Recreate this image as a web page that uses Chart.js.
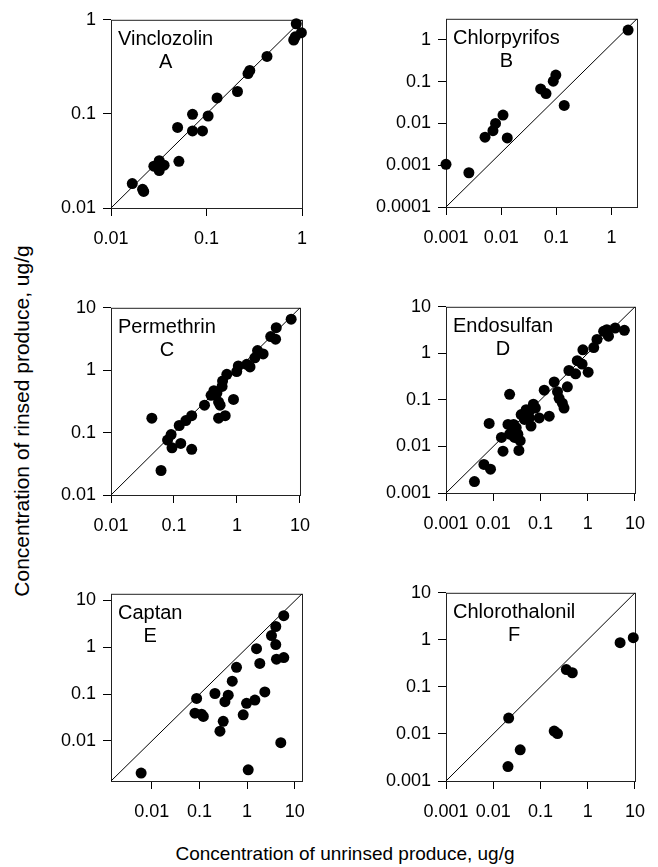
<!DOCTYPE html>
<html>
<head>
<meta charset="utf-8">
<script src="https://cdn.jsdelivr.net/npm/chart.js@4.4.1/dist/chart.umd.min.js"></script>
<style>
  body { margin: 0; background: #fff; width: 658px; height: 867px; position: relative; overflow: hidden;
         font-family: "Liberation Sans", Arial, sans-serif; color: #000; }
  canvas { position: absolute; }
  .title { position: absolute; white-space: nowrap; text-align: center; }
  #ytitle { font-size: 21px; left: -178px; top: 408px; width: 400px; height: 26px; line-height: 26px; transform: rotate(-90deg); }
  #xtitle { font-size: 19px; left: 145px; top: 842px; width: 400px; height: 24px; line-height: 24px; }
</style>
</head>
<body>
<div id="ytitle" class="title">Concentration of rinsed produce, ug/g</div>
<div id="xtitle" class="title">Concentration of unrinsed produce, ug/g</div>
<script>
// unrinsed (x) vs rinsed (y), ug/g
const vinclozolinX = [0.0167, 0.0214, 0.022, 0.0281, 0.032, 0.032, 0.036, 0.0498, 0.0514, 0.0714, 0.0714, 0.0908, 0.104, 0.129, 0.211, 0.272, 0.284, 0.43, 0.819, 0.85, 0.871, 0.985];
const vinclozolinY = [0.0182, 0.0158, 0.015, 0.0278, 0.0318, 0.025, 0.0285, 0.0718, 0.0313, 0.099, 0.066, 0.066, 0.095, 0.148, 0.173, 0.268, 0.29, 0.408, 0.61, 0.66, 0.908, 0.73];

const chlorpyrifosX = [0.001, 0.0026, 0.0051, 0.0071, 0.0079, 0.0108, 0.0129, 0.052, 0.065, 0.088, 0.098, 0.139, 2.0];
const chlorpyrifosY = [0.00105, 0.00066, 0.0047, 0.0067, 0.01, 0.0159, 0.0045, 0.067, 0.052, 0.103, 0.144, 0.027, 1.72];

const permethrinX = [0.0445, 0.0623, 0.079, 0.09, 0.093, 0.128, 0.121, 0.154, 0.191, 0.191, 0.305, 0.388, 0.43, 0.48, 0.51, 0.51, 0.54, 0.58, 0.59, 0.65, 0.69, 0.88, 0.99, 1.05, 1.43, 1.61, 1.92, 2.12, 2.6, 3.43, 4.1, 4.2, 7.24];
const permethrinY = [0.17, 0.0247, 0.0758, 0.093, 0.057, 0.067, 0.13, 0.156, 0.054, 0.187, 0.275, 0.395, 0.47, 0.43, 0.31, 0.17, 0.275, 0.55, 0.67, 0.187, 0.86, 0.34, 0.95, 1.17, 1.24, 1.13, 1.58, 2.06, 1.82, 3.46, 3.14, 4.8, 6.56];

const endosulfanX = [0.004, 0.00635, 0.00875, 0.0082, 0.0222, 0.0161, 0.0149, 0.0205, 0.0222, 0.0283, 0.0253, 0.0349, 0.0372, 0.0332, 0.027, 0.039, 0.0497, 0.063, 0.058, 0.058, 0.0707, 0.078, 0.094, 0.0458, 0.0306, 0.12, 0.153, 0.195, 0.229, 0.248, 0.29, 0.315, 0.37, 0.40, 0.553, 0.6, 0.76, 0.79, 1.02, 1.34, 1.57, 2.17, 2.75, 2.54, 3.8, 5.96];
const endosulfanY = [0.00176, 0.0041, 0.00325, 0.0313, 0.132, 0.0079, 0.0156, 0.0298, 0.0183, 0.0156, 0.0215, 0.0082, 0.0133, 0.0183, 0.0298, 0.0483, 0.0615, 0.0275, 0.041, 0.0568, 0.081, 0.0668, 0.041, 0.038, 0.0253, 0.162, 0.0446, 0.243, 0.15, 0.108, 0.085, 0.0668, 0.191, 0.428, 0.364, 0.695, 0.59, 1.19, 0.395, 1.33, 1.99, 2.98, 2.34, 3.23, 3.5, 3.12];

const captanX = [0.006, 0.0875, 0.0807, 0.111, 0.121, 0.212, 0.27, 0.316, 0.343, 0.403, 0.489, 0.601, 0.83, 0.975, 1.057, 1.46, 1.58, 1.85, 2.36, 3.25, 4.0, 4.0, 4.14, 5.89, 5.1, 5.89];
const captanY = [0.00207, 0.081, 0.0392, 0.0373, 0.0334, 0.103, 0.0162, 0.0262, 0.0688, 0.095, 0.189, 0.372, 0.0361, 0.0635, 0.00243, 0.0745, 0.93, 0.45, 0.111, 1.77, 2.77, 1.14, 0.555, 0.601, 0.0092, 4.71];

const chlorothalonilX = [0.0212, 0.0205, 0.0372, 0.195, 0.229, 0.352, 0.471, 4.84, 9.2];
const chlorothalonilY = [0.0218, 0.00203, 0.00459, 0.0115, 0.0102, 0.234, 0.2, 0.873, 1.11];

const panelNames = ['Vinclozolin', 'Chlorpyrifos', 'Permethrin', 'Endosulfan', 'Captan', 'Chlorothalonil'];
const panelLetters = ['A', 'B', 'C', 'D', 'E', 'F'];

// axis extents [min, max]
const xRanges = [[0.01, 1], [0.001, 2.9], [0.01, 10], [0.001, 10], [0.0014, 14.2], [0.001, 10]];
const yRanges = [[0.01, 1], [0.0001, 3.2], [0.01, 10], [0.001, 10], [0.0014, 13.8], [0.001, 10]];

// tick labels
const xTicks = [[0.01, 0.1, 1], [0.001, 0.01, 0.1, 1], [0.01, 0.1, 1, 10], [0.001, 0.01, 0.1, 1, 10], [0.01, 0.1, 1, 10], [0.001, 0.01, 0.1, 1, 10]];
const yTicks = [[0.01, 0.1, 1], [0.0001, 0.001, 0.01, 0.1, 1], [0.01, 0.1, 1, 10], [0.001, 0.01, 0.1, 1, 10], [0.01, 0.1, 1, 10], [0.001, 0.01, 0.1, 1, 10]];

const panelXs = [vinclozolinX, chlorpyrifosX, permethrinX, endosulfanX, captanX, chlorothalonilX];
const panelYs = [vinclozolinY, chlorpyrifosY, permethrinY, endosulfanY, captanY, chlorothalonilY];

// plot boxes on the page: left, top, right, bottom
const boxes = [[111, 16, 302, 208], [446, 15, 637, 207], [111, 304, 302, 495], [446, 303, 637, 493], [111, 590, 302, 781], [446, 589, 637, 781]];

const FONT = '"Liberation Sans", Arial, sans-serif';
const Y_AXIS_W = 100, X_AXIS_H = 48, PAD_TOP = 14, PAD_RIGHT = 20;

Chart.defaults.font.family = FONT;
Chart.defaults.color = '#000';

const frameAndLabel = {
  id: 'frameAndLabel',
  beforeDatasetsDraw(chart) {
    const { ctx, chartArea: a } = chart;
    ctx.save();
    ctx.strokeStyle = '#222';
    ctx.lineWidth = 1;
    ctx.strokeRect(a.left + 0.5, a.top + 0.5, a.right - a.left, a.bottom - a.top);
    ctx.restore();
  },
  afterDraw(chart, args, opts) {
    const { ctx, chartArea: a } = chart;
    ctx.save();
    ctx.fillStyle = '#000';
    ctx.font = '20px ' + FONT;
    ctx.textBaseline = 'alphabetic';
    ctx.textAlign = 'left';
    const nx = a.left + 7, ny = a.top + 25;
    ctx.fillText(opts.name, nx, ny);
    const w = ctx.measureText(opts.name).width;
    ctx.textAlign = 'center';
    ctx.fillText(opts.letter, nx + w / 2, ny + 23);
    ctx.restore();
  }
};

const axisOpts = (range, ticks, isX) => ({
  type: 'logarithmic',
  min: range[0],
  max: range[1],
  afterBuildTicks: s => { s.ticks = ticks.map(v => ({ value: v })); },
  afterFit: s => { if (isX) s.height = X_AXIS_H; else s.width = Y_AXIS_W; },
  ticks: {
    autoSkip: false, maxRotation: 0, minRotation: 0,
    padding: isX ? 12 : 7,
    color: '#000',
    font: { size: 18 },
    callback: v => String(v)
  },
  grid: { drawOnChartArea: false, drawTicks: true, tickLength: 8, color: '#000', lineWidth: 1 },
  border: { display: false }
});

boxes.forEach((b, i) => {
  const [L, T, R, B] = b;
  const canvas = document.createElement('canvas');
  const w = Y_AXIS_W + (R - L) + PAD_RIGHT;
  const h = PAD_TOP + (B - T) + X_AXIS_H;
  canvas.width = w;
  canvas.height = h;
  canvas.style.width = w + 'px';
  canvas.style.height = h + 'px';
  canvas.style.left = (L - Y_AXIS_W) + 'px';
  canvas.style.top = (T - PAD_TOP) + 'px';
  document.body.appendChild(canvas);

  const xs = panelXs[i], ys = panelYs[i];
  new Chart(canvas.getContext('2d'), {
    type: 'scatter',
    data: {
      datasets: [
        {
          data: xs.map((x, k) => ({ x: x, y: ys[k] })),
          pointRadius: 5.5,
          pointHoverRadius: 5.5,
          backgroundColor: '#000',
          borderWidth: 0,
          clip: false
        },
        {
          type: 'line',
          data: [{ x: xRanges[i][0], y: yRanges[i][0] }, { x: xRanges[i][1], y: yRanges[i][1] }],
          borderColor: '#000',
          borderWidth: 1,
          pointRadius: 0,
          fill: false
        }
      ]
    },
    options: {
      responsive: false,
      animation: false,
      layout: { padding: { top: PAD_TOP, right: PAD_RIGHT, left: 0, bottom: 0 } },
      scales: {
        x: axisOpts(xRanges[i], xTicks[i], true),
        y: axisOpts(yRanges[i], yTicks[i], false)
      },
      plugins: {
        legend: { display: false },
        tooltip: { enabled: false },
        frameAndLabel: { name: panelNames[i], letter: panelLetters[i] }
      }
    },
    plugins: [frameAndLabel]
  });
});
</script>
</body>
</html>
